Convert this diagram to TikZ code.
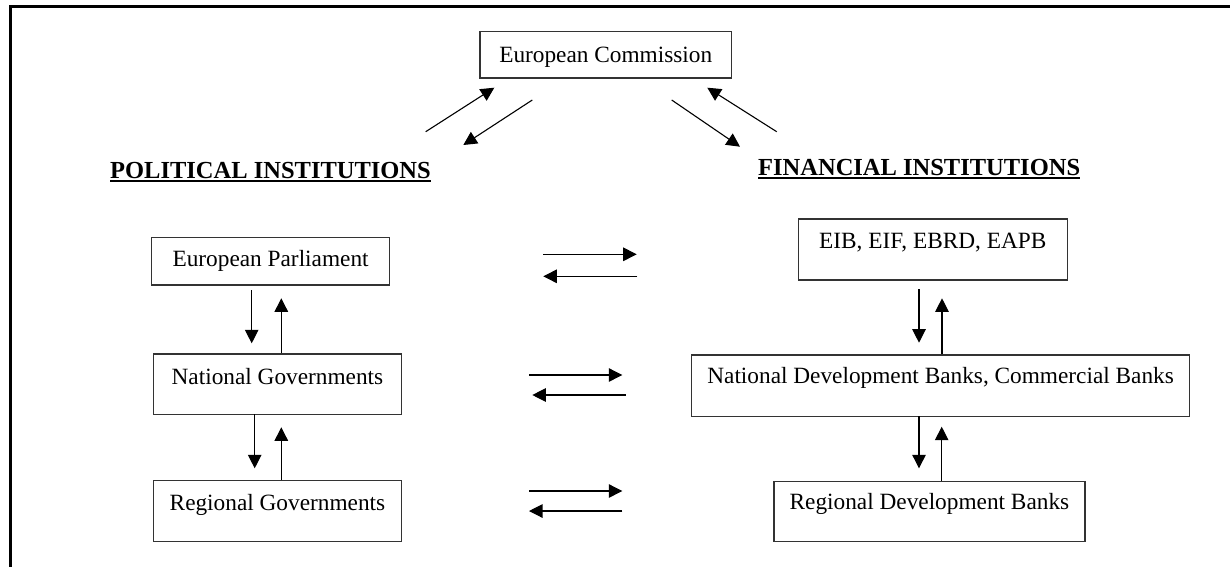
\documentclass[tikz,border=0pt]{standalone}
\usepackage{fontspec}
\setmainfont{Liberation Serif}
\usetikzlibrary{arrows.meta}
\tikzset{
  box/.style={draw=black!80, line width=1.2pt, inner sep=0pt, anchor=north west,
    font=\fontsize{23.3}{26}\selectfont, align=center},
  head/.style={inner sep=0pt, anchor=base west, font=\fontsize{24.5}{28}\selectfont\bfseries},
  arr/.style={line width=1.1pt, -{Triangle[length=13.5pt,width=13.5pt]}},
  uline/.style={line width=1.4pt},
}
\begin{document}
\begin{tikzpicture}[x=1pt,y=-1pt]
\useasboundingbox (0,0) rectangle (1230,566);
% frame
\draw[line width=3pt] (10.3,570) -- (10.3,6.3) -- (1235,6.3);

% boxes
\node[box, minimum width=251.7pt, text height=30.7pt, text depth=15.6pt] (ec) at (479.3,31) {European Commission};
\node[box, minimum width=238pt, text height=29.3pt, text depth=18.3pt] (ep) at (151,236.7) {European Parliament};
\node[box, minimum width=248.3pt, text height=30.7pt, text depth=30pt] (ng) at (152.7,353.3) {National Governments};
\node[box, minimum width=248.3pt, text height=30pt, text depth=30.7pt] (rg) at (152.7,480) {Regional Governments};
\node[box, minimum width=269pt, text height=30pt, text depth=31pt] (eib) at (797.7,218.3) {EIB, EIF, EBRD, EAPB};
\node[box, minimum width=498pt, text height=29pt, text depth=32.7pt] (ndb) at (691,354.3) {National Development Banks, Commercial Banks};
\node[box, minimum width=311pt, text height=28.6pt, text depth=31.7pt] (rdb) at (773.3,480.7) {Regional Development Banks};

% headings
\node[head] (pol) at (110,178.3) {POLITICAL INSTITUTIONS};
\node[head] (fin) at (758,175) {FINANCIAL INSTITUTIONS};
\draw[uline] ([yshift=-2.8pt]pol.base west) -- ([yshift=-2.8pt]pol.base east);
\draw[uline] ([yshift=-2.8pt]fin.base west) -- ([yshift=-2.8pt]fin.base east);

% arrow end points
\coordinate (a1) at (425.7,131.7); \coordinate (a2) at (494.3,87.7);
\coordinate (b1) at (532.3,100);   \coordinate (b2) at (463.3,145);
\coordinate (c1) at (671.7,100);   \coordinate (c2) at (740,146.7);
\coordinate (d1) at (776.7,131.7); \coordinate (d2) at (707.3,87.7);

\coordinate (h1a) at (543.3,254.3); \coordinate (h1b) at (636.7,254.3);
\coordinate (h1c) at (637.3,276.3); \coordinate (h1d) at (543.3,276.3);
\coordinate (h2a) at (529,375);     \coordinate (h2b) at (622.3,375);
\coordinate (h2c) at (625.7,395);   \coordinate (h2d) at (532.3,395);
\coordinate (h3a) at (529,491);     \coordinate (h3b) at (622.3,491);
\coordinate (h3c) at (622.3,511);   \coordinate (h3d) at (529,511);

\coordinate (v1a) at (251.7,290);  \coordinate (v1b) at (251.7,343.3);
\coordinate (v1c) at (281.3,353.3);\coordinate (v1d) at (281.3,298.3);
\coordinate (v2a) at (254.7,414);  \coordinate (v2b) at (254.7,468.3);
\coordinate (v2c) at (281.3,480);  \coordinate (v2d) at (281.3,427.3);
\coordinate (v3a) at (919,289.3);  \coordinate (v3b) at (919,342.7);
\coordinate (v3c) at (942,354.3);  \coordinate (v3d) at (942,298.3);
\coordinate (v4a) at (919,416);    \coordinate (v4b) at (919,468.3);
\coordinate (v4c) at (941.7,480.7);\coordinate (v4d) at (941.7,426.7);

\draw[arr] (a1) -- (a2);
\draw[arr] (b1) -- (b2);
\draw[arr] (c1) -- (c2);
\draw[arr] (d1) -- (d2);
\draw[arr] (h1a) -- (h1b);
\draw[arr] (h1c) -- (h1d);
\draw[arr] (h2a) -- (h2b);
\draw[arr] (h2c) -- (h2d);
\draw[arr] (h3a) -- (h3b);
\draw[arr] (h3c) -- (h3d);
\draw[arr] (v1a) -- (v1b);
\draw[arr] (v1c) -- (v1d);
\draw[arr] (v2a) -- (v2b);
\draw[arr] (v2c) -- (v2d);
\draw[arr] (v3a) -- (v3b);
\draw[arr] (v3c) -- (v3d);
\draw[arr] (v4a) -- (v4b);
\draw[arr] (v4c) -- (v4d);
\end{tikzpicture}
\end{document}
